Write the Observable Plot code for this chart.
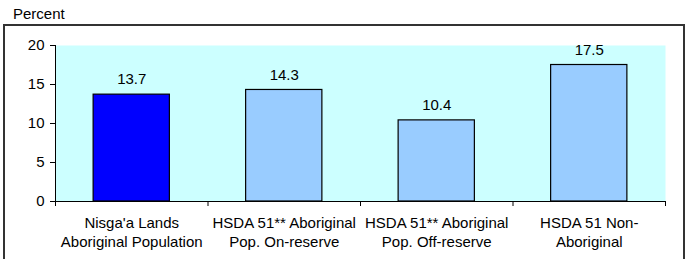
<!DOCTYPE html>
<html>
<head>
<meta charset="utf-8">
<script src="https://cdn.jsdelivr.net/npm/d3@7"></script>
<script src="https://cdn.jsdelivr.net/npm/@observablehq/plot@0.6"></script>
<style>
  html, body { margin: 0; padding: 0; background: #fff; overflow: hidden; }
  body { width: 687px; height: 259px; position: relative; font-family: "Liberation Sans", Arial, sans-serif; }
  #chart { position: absolute; left: 0; top: 0; }
  #box { position: absolute; left: 3px; top: 24px; width: 682px; height: 250px; box-sizing: border-box; border: 2px solid #333; background: transparent; pointer-events: none; }
  #ylabel { position: absolute; left: 13px; top: 6px; font-size: 15px; line-height: 15px; color: #000; }
</style>
</head>
<body>
<div id="chart"></div>
<div id="box"></div>
<div id="ylabel">Percent</div>
<script>
const categories = [
  "Nisga'a Lands\nAboriginal Population",
  "HSDA 51** Aboriginal\nPop. On-reserve",
  "HSDA 51** Aboriginal\nPop. Off-reserve",
  "HSDA 51 Non-\nAboriginal"
];
const values = [13.7, 14.3, 10.4, 17.5];
const barColors = ["#0000FF", "#99CCFF", "#99CCFF", "#99CCFF"];
const yTicks = [0, 5, 10, 15, 20];

const data = categories.map((c, i) => ({i, category: c, value: values[i], color: barColors[i]}));
const boundaries = d3.range(categories.length + 1);
const centers = categories.map((c, i) => i + 0.5);

const plot = Plot.plot({
  width: 687,
  height: 259,
  marginLeft: 55,
  marginRight: 22,
  marginTop: 45,
  marginBottom: 58,
  style: {background: "transparent", fontFamily: "Liberation Sans, Arial, sans-serif", fontSize: "15px", color: "#000"},
  x: {type: "linear", domain: [0, categories.length], axis: null},
  y: {domain: [0, 20], axis: null},
  marks: [
    Plot.frame({fill: "#CCFFFF", stroke: null}),
    Plot.rectY(data, {x1: d => d.i + 0.25, x2: d => d.i + 0.75, y1: 0, y2: "value", fill: "color", stroke: "#000", strokeWidth: 1.2}),
    Plot.text(data, {x: d => d.i + 0.5, y: "value", text: d => d.value.toFixed(1), dy: -15, fontSize: 15, fill: "#000"}),
    Plot.axisY({ticks: yTicks, tickSize: 5, tickPadding: 6, fontSize: 15, stroke: "#000", fill: "#000", label: null}),
    Plot.axisX({ticks: boundaries, tickSize: 5, tickFormat: () => "", stroke: "#000", label: null}),
    Plot.axisX({ticks: centers, tickSize: 0, tickPadding: 13, tickFormat: d => categories[Math.round(d - 0.5)], fontSize: 15, lineHeight: 1.25, fill: "#000", textOverflow: null, label: null}),
    Plot.frame({anchor: "left", stroke: "#000", strokeWidth: 1}),
    Plot.frame({anchor: "bottom", stroke: "#000", strokeWidth: 1})
  ]
});
document.getElementById("chart").appendChild(plot);
</script>
</body>
</html>
